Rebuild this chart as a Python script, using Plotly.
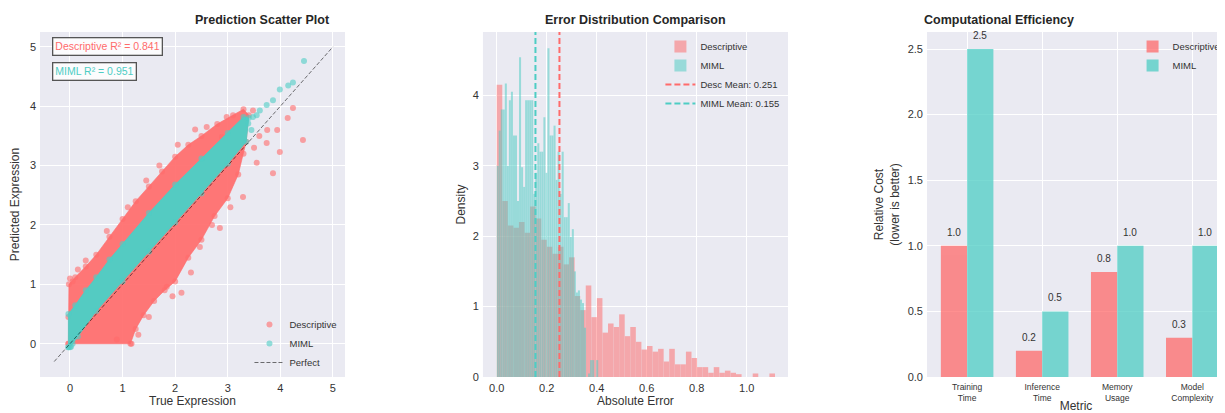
import numpy as np
import plotly.graph_objects as go

RED = "#FF6B6B"
TEAL = "#4ECDC4"
BG = "#EAEAF2"
FONT = "Liberation Sans, Arial, sans-serif"
TXT = "#333333"

# ---------------- Panel 1: prediction scatter -------------
# outline of the dense Descriptive cloud (true, predicted)
desc_env_true = [-0.03, -0.03, -0.02, 0.10, 0.30, 0.50, 0.75, 1.00, 1.25, 1.50, 1.75, 2.00, 2.25,
                 2.50, 2.80, 3.10, 3.30, 3.40, 3.35, 3.20, 3.00, 2.75, 2.50, 2.25, 2.00, 1.80,
                 1.60, 1.40, 1.25, 1.15]
desc_env_pred = [0.00, 0.45, 1.00, 1.12, 1.30, 1.50, 1.80, 2.10, 2.40, 2.65, 2.90, 3.15, 3.35,
                 3.50, 3.70, 3.85, 3.95, 3.85, 3.40, 2.85, 2.45, 2.15, 1.75, 1.45, 1.05, 0.90,
                 0.72, 0.48, 0.25, 0.00]
# scattered Descriptive points outside the dense cloud
desc_out_true = [2.38, 2.98, 3.48, 4.24, 4.14, 4.43, 2.89, 3.75, 3.94, 3.74, 3.99, 3.86, 3.29,
                 2.85, 2.47, 2.12, 1.84, 1.17, 0.00, 0.05, 0.15, 0.30, 0.70, 1.10, 1.45, 1.70,
                 2.05, 2.60, 3.60, 3.50, 3.55, 2.70, 3.05, 2.30, 1.95, 1.50, 1.30, 0.89, 3.30]
desc_out_pred = [3.61, 3.82, 3.93, 3.97, 3.80, 3.43, 3.48, 3.60, 3.60, 3.38, 3.23, 2.87, 2.47,
                 1.95, 1.63, 0.86, 0.96, 0.00, 1.10, 1.05, 1.25, 1.40, 1.90, 2.30, 2.75, 3.00,
                 3.35, 3.65, 3.50, 3.30, 3.05, 2.00, 2.30, 1.20, 0.80, 0.45, 0.15, 0.07, 3.20]
# outline of the dense MIML band
miml_env_true = [-0.03, -0.03, 0.10, 0.30, 0.50, 0.75, 1.00, 1.50, 2.00, 2.50, 3.00, 3.30, 3.40,
                 3.35, 3.00, 2.50, 2.00, 1.50, 1.00, 0.50, 0.15, 0.05, 0.00]
miml_env_pred = [-0.06, 0.50, 0.65, 0.90, 1.12, 1.42, 1.68, 2.20, 2.68, 3.12, 3.55, 3.82, 3.80,
                 3.40, 3.03, 2.53, 2.04, 1.55, 1.05, 0.55, 0.12, 0.00, -0.06]
miml_out_true = [3.39, 3.48, 3.55, 3.61, 3.74, 3.86, 3.99, 4.15, 4.24, 4.45, 3.45, 0.02]
miml_out_pred = [3.71, 3.82, 3.85, 3.93, 4.02, 4.10, 4.28, 4.35, 4.40, 4.76, 3.60, -0.05]
perfect_line = [-0.3, 5.0]
desc_r2 = 0.841
miml_r2 = 0.951
scatter_ticks = [0, 1, 2, 3, 4, 5]

# ---------------- Panel 2: error histograms (density per bin) -------
desc_err_max = 1.113
desc_density = [4.15, 2.50, 2.15, 2.12, 2.20, 2.05, 2.42, 2.25, 1.95, 1.85,
                1.75, 1.85, 1.60, 1.70, 1.15, 0.95, 1.30, 0.85, 1.12, 0.63,
                0.76, 0.71, 0.89, 0.58, 0.71, 0.50, 0.39, 0.44, 0.36, 0.40,
                0.22, 0.40, 0.18, 0.18, 0.36, 0.27, 0.14, 0.14, 0.06, 0.14,
                0.06, 0.09, 0.06, 0.04, 0.00, 0.00, 0.05, 0.00, 0.00, 0.05]
miml_err_max = 0.406
miml_density = [3.00, 3.50, 3.80, 3.80, 4.17, 3.00, 3.93, 4.05, 3.43, 3.43,
                2.50, 4.54, 2.98, 2.70, 3.93, 3.93, 3.93, 3.93, 2.60, 2.90,
                3.32, 3.20, 3.20, 3.69, 2.90, 4.67, 3.43, 3.43, 3.57, 2.80,
                3.20, 2.60, 3.20, 2.27, 2.27, 2.47, 1.99, 2.10, 1.50, 1.20,
                1.23, 1.10, 1.05, 0.70, 0.00, 0.05, 0.24, 0.24, 0.00, 0.24]
desc_mean = 0.251
miml_mean = 0.155
hist_xticks = [0.0, 0.2, 0.4, 0.6, 0.8, 1.0]
hist_yticks = [0, 1, 2, 3, 4]

# ---------------- Panel 3: computational efficiency ----------------------------------------
metrics = ["Training<br>Time", "Inference<br>Time", "Memory<br>Usage", "Model<br>Complexity"]
desc_cost = [1.0, 0.2, 0.8, 0.3]
miml_cost = [2.5, 0.5, 1.0, 1.0]
bar_yticks = [0.0, 0.5, 1.0, 1.5, 2.0, 2.5]

# ------------------------------------------------------------------------------------------
fig = go.Figure()

# Scatter panel
fig.add_trace(go.Scatter(
    x=desc_env_true + desc_env_true[:1], y=desc_env_pred + desc_env_pred[:1],
    fill="toself", fillcolor="rgba(255,107,107,0.92)", mode="lines+markers",
    line=dict(color="rgba(255,107,107,0.6)", width=1),
    marker=dict(size=6, color="rgba(255,107,107,0.6)"),
    showlegend=False, hoverinfo="skip", xaxis="x", yaxis="y"))
fig.add_trace(go.Scatter(
    x=desc_out_true, y=desc_out_pred, mode="markers", name="Descriptive",
    marker=dict(size=6, color="rgba(255,107,107,0.6)"),
    legend="legend", xaxis="x", yaxis="y"))
fig.add_trace(go.Scatter(
    x=miml_env_true + miml_env_true[:1], y=miml_env_pred + miml_env_pred[:1],
    fill="toself", fillcolor="rgba(78,205,196,0.97)", mode="lines+markers",
    line=dict(color="rgba(78,205,196,0.8)", width=1),
    marker=dict(size=6, color="rgba(78,205,196,0.6)"),
    showlegend=False, hoverinfo="skip", xaxis="x", yaxis="y"))
fig.add_trace(go.Scatter(
    x=miml_out_true, y=miml_out_pred, mode="markers", name="MIML",
    marker=dict(size=6, color="rgba(78,205,196,0.6)"),
    legend="legend", xaxis="x", yaxis="y"))
fig.add_trace(go.Scatter(
    x=perfect_line, y=perfect_line, mode="lines", name="Perfect",
    line=dict(color="rgba(0,0,0,0.55)", width=1, dash="4px,2px"),
    legend="legend", xaxis="x", yaxis="y"))

# Histogram panel
desc_edges = np.linspace(0, desc_err_max, len(desc_density) + 1)
miml_edges = np.linspace(0, miml_err_max, len(miml_density) + 1)
fig.add_trace(go.Bar(
    x=desc_edges[:-1], y=desc_density, width=np.diff(desc_edges), offset=0,
    marker=dict(color=RED, line=dict(width=0)), opacity=0.52, name="Descriptive",
    legend="legend2", xaxis="x2", yaxis="y2"))
fig.add_trace(go.Bar(
    x=miml_edges[:-1], y=miml_density, width=np.diff(miml_edges), offset=0,
    marker=dict(color=TEAL, line=dict(width=0)), opacity=0.52, name="MIML",
    legend="legend2", xaxis="x2", yaxis="y2"))
fig.add_trace(go.Scatter(
    x=[None], y=[None], mode="lines", name=f"Desc Mean: {desc_mean:.3f}",
    line=dict(color=RED, width=2, dash="6px,3px"), legend="legend2", xaxis="x2", yaxis="y2"))
fig.add_trace(go.Scatter(
    x=[None], y=[None], mode="lines", name=f"MIML Mean: {miml_mean:.3f}",
    line=dict(color=TEAL, width=2, dash="6px,3px"), legend="legend2", xaxis="x2", yaxis="y2"))

# Bar panel
idx = list(range(len(metrics)))
fig.add_trace(go.Bar(
    x=idx, y=desc_cost, width=0.35, offset=-0.35, marker=dict(color=RED, line=dict(width=0)),
    opacity=0.75, name="Descriptive", legend="legend3", xaxis="x3", yaxis="y3"))
fig.add_trace(go.Bar(
    x=idx, y=miml_cost, width=0.35, offset=0, marker=dict(color=TEAL, line=dict(width=0)),
    opacity=0.75, name="MIML", legend="legend3", xaxis="x3", yaxis="y3"))

annotations = []
for i, v in enumerate(desc_cost):
    annotations.append(dict(x=i - 0.175, y=v, xref="x3", yref="y3", text=f"{v:.1f}",
                            showarrow=False, yanchor="bottom", yshift=6,
                            font=dict(size=10, color=TXT, family=FONT)))
for i, v in enumerate(miml_cost):
    annotations.append(dict(x=i + 0.175, y=v, xref="x3", yref="y3", text=f"{v:.1f}",
                            showarrow=False, yanchor="bottom", yshift=6,
                            font=dict(size=10, color=TXT, family=FONT)))

# R² boxes
annotations.append(dict(x=0.039, y=0.986, xref="x domain", yref="y domain",
                        text=f"Descriptive R² = {desc_r2:.3f}", showarrow=False,
                        xanchor="left", yanchor="top", font=dict(size=10.5, color=RED, family=FONT),
                        bgcolor="rgba(255,255,255,0.85)", bordercolor="#555", borderwidth=1.3,
                        borderpad=2))
annotations.append(dict(x=0.039, y=0.913, xref="x domain", yref="y domain",
                        text=f"MIML R² = {miml_r2:.3f}", showarrow=False,
                        xanchor="left", yanchor="top", font=dict(size=10.5, color=TEAL, family=FONT),
                        bgcolor="rgba(255,255,255,0.85)", bordercolor="#555", borderwidth=1.3,
                        borderpad=2))

# Subplot domains (the page adds an 8px body margin at top-left)
dom1 = [0.0, 0.2574]
dom2 = [0.3738, 0.6312]
dom3 = [0.7485, 1.0]
for dom, t in [(dom1, "Prediction Scatter Plot"), (dom2, "Error Distribution Comparison"),
               (dom3, "Computational Efficiency")]:
    annotations.append(dict(x=(dom[0] + dom[1]) / 2, y=1.035, xref="paper", yref="paper",
                            text=f"<b>{t}</b>", showarrow=False, yanchor="middle",
                            font=dict(size=12.5, color="#262626", family=FONT)))

shapes = [
    dict(type="line", x0=desc_mean, x1=desc_mean, y0=0, y1=1, xref="x2", yref="y2 domain",
         line=dict(color=RED, width=2, dash="6px,3px")),
    dict(type="line", x0=miml_mean, x1=miml_mean, y0=0, y1=1, xref="x2", yref="y2 domain",
         line=dict(color=TEAL, width=2, dash="6px,3px")),
]

ax = dict(showgrid=True, gridcolor="white", gridwidth=1, zeroline=False, showline=False,
          ticks="", tickfont=dict(size=11, color=TXT, family=FONT),
          title_font=dict(size=12, color=TXT, family=FONT), ticklabelstandoff=3)

legfont = dict(size=9.5, color=TXT, family=FONT)

fig.update_layout(
    width=1217, height=405,
    margin=dict(l=32, r=0, t=24, b=36, autoexpand=False),
    paper_bgcolor="white", plot_bgcolor=BG,
    font=dict(family=FONT, color=TXT),
    barmode="overlay",
    xaxis=dict(ax, domain=dom1, range=[-0.57, 5.23], tickvals=scatter_ticks, anchor="y",
               title=dict(text="True Expression", standoff=3)),
    yaxis=dict(ax, domain=[0, 1], range=[-0.56, 5.25], tickvals=scatter_ticks, anchor="x",
               title=dict(text="Predicted Expression", standoff=7)),
    xaxis2=dict(ax, domain=dom2, range=[-0.055, 1.165], tickvals=hist_xticks, tickformat=".1f",
                anchor="y2", title=dict(text="Absolute Error", standoff=3)),
    yaxis2=dict(ax, domain=[0, 1], range=[0, 4.9], tickvals=hist_yticks, anchor="x2",
                title=dict(text="Density", standoff=4)),
    xaxis3=dict(ax, domain=dom3, range=[-0.535, 3.436], tickvals=idx, ticktext=metrics,
                anchor="y3", tickfont=dict(size=8.5, color=TXT, family=FONT),
                title=dict(text="Metric", standoff=3)),
    yaxis3=dict(ax, domain=[0, 1], range=[0, 2.63], tickvals=bar_yticks, tickformat=".1f",
                anchor="x3", title=dict(text="Relative Cost<br>(lower is better)", standoff=5)),
    legend=dict(x=dom1[1] - 0.003, y=0.0, xanchor="right", yanchor="bottom",
                bgcolor="rgba(0,0,0,0)", font=legfont),
    legend2=dict(x=dom2[1] - 0.003, y=1.0, xanchor="right", yanchor="top",
                 bgcolor="rgba(0,0,0,0)", font=legfont),
    legend3=dict(x=0.922, y=1.0, xanchor="left", yanchor="top",
                 bgcolor="rgba(0,0,0,0)", font=legfont),
    annotations=annotations,
    shapes=shapes,
)

fig.write_html("out.html")
